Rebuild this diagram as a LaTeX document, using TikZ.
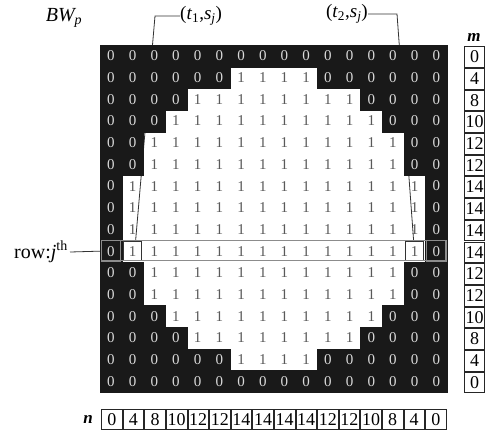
\documentclass[tikz,border=0pt]{standalone}
\usepackage{fontspec}
\setmainfont{Liberation Serif}
\tikzset{
  cellz/.style={minimum width=21.9pt, minimum height=21.9pt, inner sep=0pt,
    fill=black!90, draw=black!90, line width=0.2pt, text=white!85!black,
    font=\fontsize{15}{15}\selectfont},
  cello/.style={minimum width=21.7pt, minimum height=21.7pt, inner sep=0pt,
    text=black!65, font=\fontsize{15}{15}\selectfont},
  valbox/.style={draw=black!85, line width=0.7pt, minimum width=20.6pt,
    minimum height=20.6pt, inner sep=0pt, font=\fontsize{18}{18}\selectfont},
  selbox/.style={draw=black!80, line width=0.8pt, minimum width=18pt,
    minimum height=19pt, inner sep=0pt},
  lead/.style={line width=0.8pt, draw=black!80},
  hl/.style={draw=black!45, line width=1.2pt},
  lab/.style={inner sep=0pt, font=\fontsize{19}{19}\selectfont}
}
\begin{document}
\begin{tikzpicture}[x=1pt,y=-1pt]
\useasboundingbox[fill=white] (0,0) rectangle (486,432);
% pass 1: ones
\foreach \k [count=\r from 0] in {0,4,8,10,12,12,14,14,14,14,12,12,10,8,4,0} {
  \pgfmathtruncatemacro\z{(16-\k)/2}
  \foreach \c in {0,...,15} {
    \def\v{1}
    \ifnum\c<\z\relax\def\v{0}\fi
    \ifnum\c>\numexpr15-\z\relax\def\v{0}\fi
    \ifnum\v=1
      \node[cello] (c-\r-\c) at ({100+(\c+0.5)*21.7},{45+(\r+0.5)*21.7}) {1};
    \fi
  }
}
% selected boxes
\node[selbox] (bl) at (c-9-1) {};
\node[selbox] (br) at (c-9-14) {};
% leaders
\coordinate (k1) at (155,16);
\coordinate (k2) at (397,14);
\coordinate (e1) at (180,16);
\coordinate (e2) at (368,14);
\node[lab, anchor=west] (t1) at (e1) {(\textit{t}\textsubscript{1},\textit{s\textsubscript{j}})};
\node[lab, anchor=east] (t2) at (e2) {(\textit{t}\textsubscript{2},\textit{s\textsubscript{j}})};
\draw[lead] ([xshift=3pt]bl.north) -- (k1) -- (e1);
\draw[lead] ([xshift=-1pt]br.north) -- (k2) -- (e2);
% pass 2: zeros
\foreach \k [count=\r from 0] in {0,4,8,10,12,12,14,14,14,14,12,12,10,8,4,0} {
  \pgfmathtruncatemacro\z{(16-\k)/2}
  \foreach \c in {0,...,15} {
    \def\v{1}
    \ifnum\c<\z\relax\def\v{0}\fi
    \ifnum\c>\numexpr15-\z\relax\def\v{0}\fi
    \ifnum\v=0
      \node[cellz] (c-\r-\c) at ({100+(\c+0.5)*21.7},{45+(\r+0.5)*21.7}) {0};
    \fi
  }
}
% highlight of row j
\draw[hl] ([shift={(1.5pt,-0.5pt)}]c-9-0.north west) rectangle ([shift={(-1.5pt,2pt)}]c-9-15.south east);
\draw[hl] ([shift={(1.5pt,-0.5pt)}]c-9-0.north west) rectangle ([shift={(-1.5pt,0.5pt)}]c-9-0.south east);
\draw[hl] ([shift={(1.5pt,-0.5pt)}]c-9-15.north west) rectangle ([shift={(-1.5pt,0.5pt)}]c-9-15.south east);
% labels
\node[lab, font=\fontsize{20}{20}\selectfont] (bw) at (64,18) {\textit{BW\textsubscript{p}}};
\node[lab, anchor=east, font=\fontsize{20}{20}\selectfont] (rowj) at (68,252) {row:\textit{j}\textsuperscript{th}};
\draw[lead] (rowj.east) ++(2pt,0) -- (c-9-0.west);
% m column
\node[lab, font=\bfseries\itshape\fontsize{17}{17}\selectfont] (mlab) at (474,37) {m};
\foreach \v [count=\r from 0] in {0,4,8,10,12,12,14,14,14,14,12,12,10,8,4,0} {
  \node[valbox] (m-\r) at (474.5,{45+(\r+0.5)*21.7+1}) {\v};
}
% n row
\node[lab, font=\bfseries\itshape\fontsize{17}{17}\selectfont] (nlab) at (88,419) {n};
\foreach \v [count=\c from 0] in {0,4,8,10,12,12,14,14,14,14,12,12,10,8,4,0} {
  \node[valbox] (n-\c) at ({101+(\c+0.5)*21.6},419.5) {\v};
}
\end{tikzpicture}
\end{document}
